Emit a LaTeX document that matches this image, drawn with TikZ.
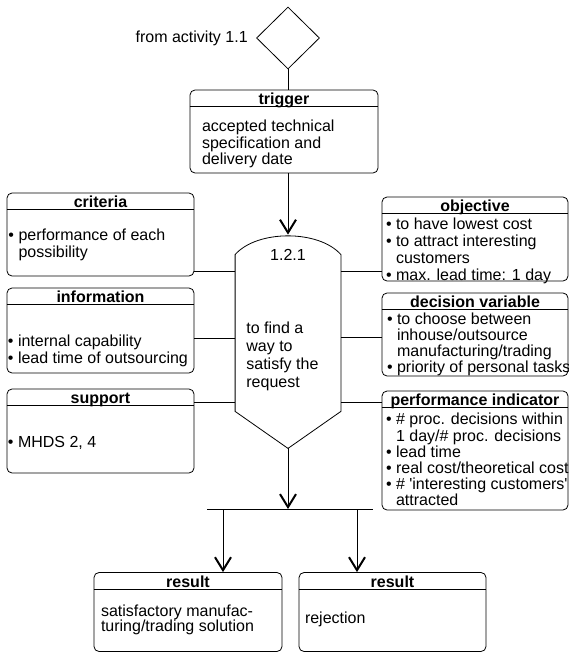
\documentclass[tikz,border=0pt]{standalone}
\usepackage{fontspec}
\setmainfont{Liberation Sans}
\usetikzlibrary{arrows.meta,positioning,shapes.geometric}
\newcommand{\bulitem}{\textbullet\ }
\newcommand{\bulcont}{\phantom{\textbullet\ }}

\begin{document}
\begin{tikzpicture}[
    x=1pt, y=-1pt,
    font=\fontsize{16}{16.5}\selectfont,
    line width=0.8pt,
    panel/.style={draw, rounded corners=5pt, minimum width=187pt, inner sep=0pt},
    heading/.style={anchor=base, inner sep=0pt, font=\fontsize{16}{16.5}\selectfont\bfseries},
    body/.style={anchor=north west, align=left, inner sep=0pt},
    arrow/.style={-{Straight Barb[length=13pt,width=16pt,line width=2pt]}}
]
    \useasboundingbox (0,0) rectangle (569,653);

    % start, trigger and the activity itself
    \node[diamond, draw, minimum width=63pt, minimum height=62pt, inner sep=0pt] (gate) at (288,38) {};
    \node[inner sep=0pt] (origin) [left=8pt of gate] {from activity 1.1};
    \node[panel, minimum width=188pt, minimum height=83pt] (trigger) at (284,131.5) {};
    \node[minimum width=105pt, minimum height=213pt, inner sep=0pt] (proc) at (288,341.5) {};
    \draw ([yshift=-20pt]proc.north west)
        .. controls ([xshift=22pt,yshift=5pt]proc.north west) and ([xshift=-22pt,yshift=5pt]proc.north east)
        .. ([yshift=-20pt]proc.north east) -- ([yshift=37pt]proc.south east)
        -- (proc.south) -- ([yshift=37pt]proc.south west) -- cycle;
    \node[anchor=base, inner sep=0pt] (procnum) at (288,260) {1.2.1};
    \node[body, font=\fontsize{16}{18.2}\selectfont] (proctext) at (246,321.3) {to find a\\way to\\satisfy the\\request};

    % left column
    \node[panel, minimum height=83pt] (criteria) at (100.5,234.5) {};
    \node[panel, minimum height=85pt] (information) at (100.5,330.5) {};
    \node[panel, minimum height=84pt] (support) at (100.5,431) {};

    % right column
    \node[panel, minimum width=186pt, minimum height=84pt] (objective) at (475,239) {};
    \node[panel, minimum width=186pt, minimum height=83pt] (decision) at (475,334.5) {};
    \node[panel, minimum width=186pt, minimum height=119pt] (perfind) at (475,450.5) {};

    % results
    \node[panel, minimum width=188pt, minimum height=79pt] (result1) at (188,612) {};
    \node[panel, minimum width=187pt, minimum height=79pt] (result2) at (392.5,612) {};

    % headings with their rule
    \foreach \b/\t in {trigger/trigger, criteria/criteria, information/information, support/support,
        objective/objective, decision/decision variable, perfind/performance indicator,
        result1/result, result2/result} {
        \node[heading] (\b-head) at ([yshift=-15pt]\b.north) {\t};
        \draw ([yshift=-17pt]\b.north west) -- ([yshift=-17pt]\b.north east);
    }

    \node[body] (trigger-text) at ([xshift=12pt,yshift=-30.3pt]trigger.north west)
        {accepted technical\\specification and\\delivery date};
    \node[body] (criteria-text) at ([xshift=1.5pt,yshift=-36.3pt]criteria.north west)
        {\bulitem performance of each\\\bulcont possibility};
    \node[body] (information-text) at ([xshift=1pt,yshift=-47.3pt]information.north west)
        {\bulitem internal capability\\\bulitem lead time of outsourcing};
    \node[body] (support-text) at ([xshift=1pt,yshift=-47.3pt]support.north west)
        {\bulitem MHDS 2, 4};
    \node[body, font=\fontsize{16}{17}\selectfont] (objective-text) at ([xshift=4pt,yshift=-21.3pt]objective.north west)
        {\bulitem to have lowest cost\\\bulitem to attract interesting\\\bulcont customers\\\bulitem max. lead time: 1 day};
    \node[body, font=\fontsize{16}{16}\selectfont] (decision-text) at ([xshift=5pt,yshift=-20.3pt]decision.north west)
        {\bulitem to choose between\\\bulcont inhouse/outsource\\\bulcont manufacturing/trading\\\bulitem priority of personal tasks};
    \node[body, font=\fontsize{16}{16.2}\selectfont] (perfind-text) at ([xshift=4pt,yshift=-22.3pt]perfind.north west)
        {\bulitem \# proc. decisions within\\\bulcont 1 day/\# proc. decisions\\\bulitem lead time\\\bulitem real cost/theoretical cost\\\bulitem \# \textquotesingle interesting customers\textquotesingle\\\bulcont attracted};
    \node[body, font=\fontsize{16}{15}\selectfont] (result1-text) at ([xshift=7pt,yshift=-32.8pt]result1.north west)
        {satisfactory manufac-\\turing/trading solution};
    \node[body] (result2-text) at ([xshift=6pt,yshift=-39.8pt]result2.north west)
        {rejection};

    % connectors
    \coordinate (pl1) at ([yshift=-37pt]proc.north west);
    \coordinate (pl2) at ([yshift=-104pt]proc.north west);
    \coordinate (pl3) at ([yshift=-168pt]proc.north west);
    \coordinate (pr1) at ([yshift=-37pt]proc.north east);
    \coordinate (pr2) at ([yshift=-103pt]proc.north east);
    \coordinate (pr3) at ([yshift=-168pt]proc.north east);
    \coordinate (barL) at (207,509);
    \coordinate (barR) at (373,509);
    \coordinate (fork1) at (223,509);
    \coordinate (fork2) at (357,509);

    \draw (gate.south) -- (gate.south |- trigger.north);
    \draw[arrow] (gate.south |- trigger.south) -- (proc.north);
    \draw (criteria.east |- pl1) -- (pl1);
    \draw (information.east |- pl2) -- (pl2);
    \draw (support.east |- pl3) -- (pl3);
    \draw (pr1) -- (objective.west |- pr1);
    \draw (pr2) -- (decision.west |- pr2);
    \draw (pr3) -- (perfind.west |- pr3);
    \draw[arrow] (proc.south) -- (proc.south |- barL);
    \draw (barL) -- (barR);
    \draw[arrow] (fork1) -- (fork1 |- result1.north);
    \draw[arrow] (fork2) -- (fork2 |- result2.north);
\end{tikzpicture}
\end{document}
